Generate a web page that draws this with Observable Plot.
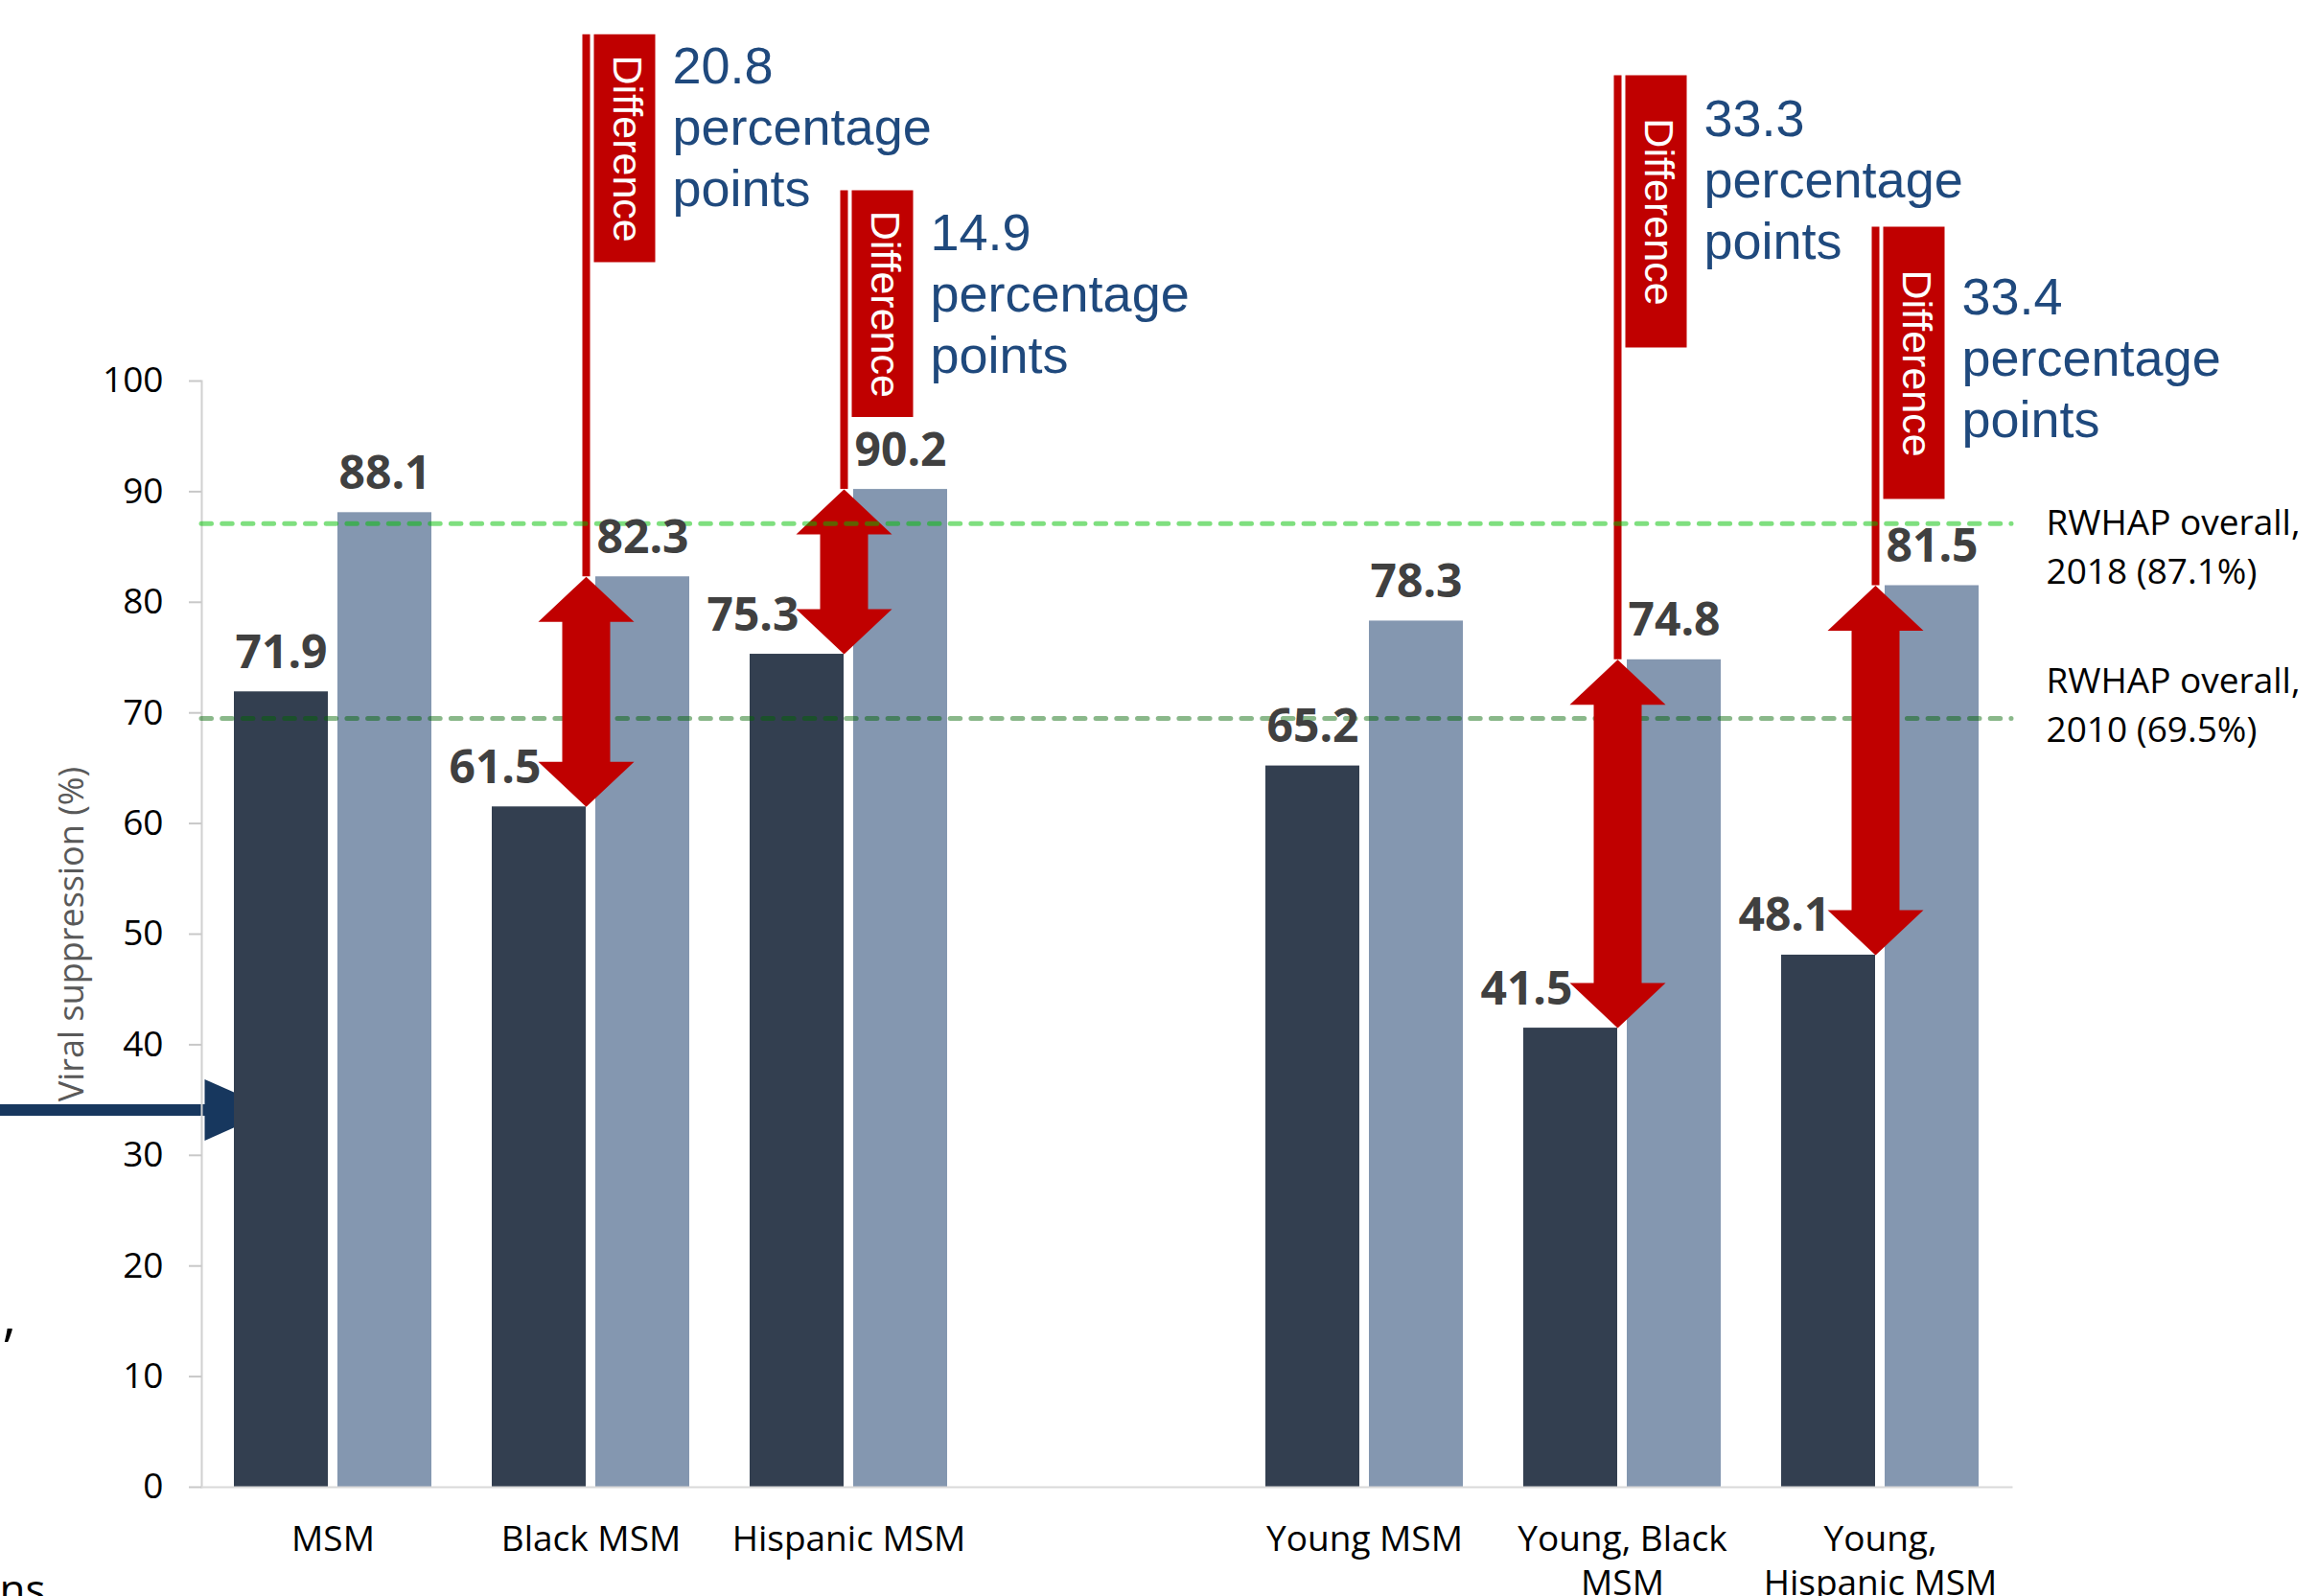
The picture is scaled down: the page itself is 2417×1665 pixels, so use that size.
<!DOCTYPE html>
<html>
<head>
<meta charset="utf-8">
<script src="https://cdn.jsdelivr.net/npm/d3@7"></script>
<script src="https://cdn.jsdelivr.net/npm/@observablehq/plot@0.6"></script>
<style>
  html, body { margin: 0; padding: 0; background: #fff; overflow: hidden; }
  #chart { width: 2417px; height: 1665px; overflow: hidden; }
</style>
</head>
<body>
<div id="chart"></div>
<script>
// ---------- data ----------
const categories = ["MSM", "Black MSM", "Hispanic MSM", "Young MSM", "Young, Black MSM", "Young, Hispanic MSM"];
const tickLabels = ["MSM", "Black MSM", "Hispanic MSM", "Young MSM", "Young, Black\nMSM", "Young,\nHispanic MSM"];
const suppression2010 = [71.9, 61.5, 75.3, 65.2, 41.5, 48.1];
const suppression2018 = [88.1, 82.3, 90.2, 78.3, 74.8, 81.5];
const diffCategories = ["Black MSM", "Hispanic MSM", "Young, Black MSM", "Young, Hispanic MSM"];
const diffValues = [20.8, 14.9, 33.3, 33.4];
const refValues = [87.1, 69.5];
const refLabels = ["RWHAP overall,\n2018 (87.1%)", "RWHAP overall,\n2010 (69.5%)"];
const yTicks = [0, 10, 20, 30, 40, 50, 60, 70, 80, 90, 100];
const yLabel = "Viral suppression (%)";

// annotation layout, in chart (percent) units
const diffBoxTop = [131.3, 117.2, 127.6, 113.9];
const diffBoxBottom = [110.7, 96.7, 103.0, 89.3];
const diffTextBaseline = [126.9, 111.8, 122.1, 106.0];
const pointerLevel = 34.1;

// ---------- derived tables ----------
const spacer = " ";
const xDomain = [...categories.slice(0, 3), spacer, ...categories.slice(3)];
const labelOf = new Map(categories.map((c, i) => [c, tickLabels[i]]));
const rows2010 = categories.map((c, i) => ({category: c, value: suppression2010[i], hasDiff: diffCategories.includes(c)}));
const rows2018 = categories.map((c, i) => ({category: c, value: suppression2018[i]}));
const diffs = diffCategories.map((c, i) => {
  const k = categories.indexOf(c);
  return {
    category: c,
    low: suppression2010[k],
    high: suppression2018[k],
    top: diffBoxTop[i],
    bottom: diffBoxBottom[i],
    mid: (diffBoxTop[i] + diffBoxBottom[i]) / 2,
    base: diffTextBaseline[i],
    text: `${diffValues[i]}\npercentage\npoints`
  };
});

// ---------- styles ----------
const RED = "#C00000";
const DARK = "#333F50";
const LIGHT = "#8497B0";
const BLUE = "#1F497D";
const NAVY = "#17375E";
const shift = -5;
const blueFs = 54, blueLh = 1.185;
const refFs = 37, refLh = 1.38;

const chart = Plot.plot({
  width: 2417,
  height: 1700,
  marginLeft: 210,
  marginRight: 319,
  marginTop: 397,
  marginBottom: 149,
  style: {fontFamily: "'Open Sans', sans-serif", background: "#fff", color: "#000", overflow: "visible"},
  x: {domain: xDomain, paddingInner: 0.234, paddingOuter: 0.117, axis: null},
  y: {domain: [0, 100], axis: null},
  marks: [
    // pointer arrow coming from the left edge
    Plot.ruleY([pointerLevel], {y: d => d, stroke: NAVY, strokeWidth: 12, insetLeft: -210, insetRight: 1884}),
    Plot.vector([pointerLevel], {y: d => d, frameAnchor: "left", shape: "spike", rotate: 90, length: 72, r: 32, anchor: "start", dx: 3, fill: NAVY, stroke: "none"}),

    // bars
    Plot.barY(rows2010, {x: "category", y: "value", fill: DARK, insetRight: 108}),
    Plot.barY(rows2018, {x: "category", y: "value", fill: LIGHT, insetLeft: 108}),

    // axis lines
    Plot.frame({anchor: "left", stroke: "#D0D0D0", strokeWidth: 2}),
    Plot.frame({anchor: "bottom", stroke: "#D9D9D9", strokeWidth: 2}),

    // 2010 reference line (under the arrows)
    Plot.ruleY([refValues[1]], {y: d => d, stroke: "#006400", strokeOpacity: 0.46, strokeWidth: 5, strokeDasharray: "10.5 11.2", strokeLinecap: "round"}),

    // difference arrows
    Plot.ruleX(diffs, {x: "category", y1: "top", y2: "high", stroke: RED, strokeWidth: 8, dx: shift}),
    Plot.ruleX(diffs, {x: "category", y1: "high", y2: "low", insetTop: 46, insetBottom: 46, stroke: RED, strokeWidth: 50, dx: shift}),
    Plot.vector(diffs, {x: "category", y: "high", shape: "spike", anchor: "end", length: 47, r: 50, rotate: 0, fill: RED, stroke: "none", dx: shift}),
    Plot.vector(diffs, {x: "category", y: "low", shape: "spike", anchor: "end", length: 47, r: 50, rotate: 180, fill: RED, stroke: "none", dx: shift}),
    Plot.ruleX(diffs, {x: "category", y1: "top", y2: "bottom", stroke: RED, strokeWidth: 64, dx: shift + 40}),
    Plot.text(diffs, {x: "category", y: "mid", text: () => "Difference", rotate: 90, textAnchor: "middle", lineAnchor: "middle",
      fill: "#fff", fontFamily: "'Liberation Sans', Arial, sans-serif", fontSize: 43, dx: shift + 42}),
    Plot.text(diffs, {x: "category", y: "base", text: "text", textAnchor: "start", lineAnchor: "top", lineHeight: blueLh,
      fill: BLUE, fontFamily: "'Liberation Sans', Arial, sans-serif", fontSize: blueFs, dx: shift + 90, dy: -0.71 * blueLh * blueFs}),

    // 2018 reference line (over the arrows)
    Plot.ruleY([refValues[0]], {y: d => d, stroke: "#00C000", strokeOpacity: 0.5, strokeWidth: 5, strokeDasharray: "10.5 11.2", strokeLinecap: "round"}),

    // reference labels
    Plot.text([refLabels[0]], {text: d => d, y: () => refValues[0], frameAnchor: "right", textAnchor: "start", lineAnchor: "top",
      lineHeight: refLh, fontSize: refFs, fill: "#000", dx: 36, dy: -25}),
    Plot.text([refLabels[1]], {text: d => d, y: () => refValues[1], frameAnchor: "right", textAnchor: "start", lineAnchor: "top",
      lineHeight: refLh, fontSize: refFs, fill: "#000", dx: 36, dy: -63}),

    // value labels
    Plot.text(rows2010.filter(d => !d.hasDiff), {x: "category", y: "value", text: d => d.value.toFixed(1), dx: -54, dy: -25,
      lineAnchor: "bottom", textAnchor: "middle", fontWeight: 700, fontSize: 48, fill: "#404040"}),
    Plot.text(rows2010.filter(d => d.hasDiff), {x: "category", y: "value", text: d => d.value.toFixed(1), dx: -52, dy: -25,
      lineAnchor: "bottom", textAnchor: "end", fontWeight: 700, fontSize: 48, fill: "#404040"}),
    Plot.text(rows2018, {x: "category", y: "value", text: d => d.value.toFixed(1), dx: 54, dy: -25,
      lineAnchor: "bottom", textAnchor: "middle", fontWeight: 700, fontSize: 48, fill: "#404040"}),

    // axes
    Plot.axisY({ticks: yTicks, tickSize: 13, tickPadding: 27, fontSize: 37, color: "#000", stroke: "#C8C8C8", strokeWidth: 2, label: null}),
    Plot.axisX({domain: xDomain, tickSize: 0, tickPadding: 34, fontSize: 37, lineHeight: 1.24, color: "#000", label: null,
      tickFormat: c => labelOf.get(c) ?? ""}),

    // y-axis title
    Plot.text([yLabel], {text: d => d, frameAnchor: "left", rotate: -90, dx: -124, textAnchor: "middle", lineAnchor: "bottom",
      fontSize: 36, fill: "#595959"}),

    // fragments of neighbouring slide text at the left edge
    Plot.text([","], {text: d => d, frameAnchor: "left", y: () => 13.7, dx: -208, textAnchor: "start", lineAnchor: "bottom", fontSize: 56, fill: "#000"}),
    Plot.text(["ns"], {text: d => d, frameAnchor: "bottom-left", dx: -163, dy: 122, textAnchor: "end", lineAnchor: "bottom", fontSize: 44, fill: "#000"})
  ]
});
document.getElementById("chart").appendChild(chart);
</script>
</body>
</html>
